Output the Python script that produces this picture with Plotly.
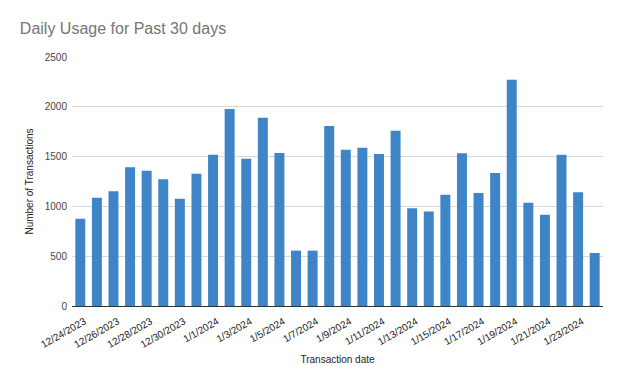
import plotly.graph_objects as go

dates = ["12/24/2023", "12/25/2023", "12/26/2023", "12/27/2023", "12/28/2023", "12/29/2023",
         "12/30/2023", "12/31/2023", "1/1/2024", "1/2/2024", "1/3/2024", "1/4/2024",
         "1/5/2024", "1/6/2024", "1/7/2024", "1/8/2024", "1/9/2024", "1/10/2024",
         "1/11/2024", "1/12/2024", "1/13/2024", "1/14/2024", "1/15/2024", "1/16/2024",
         "1/17/2024", "1/18/2024", "1/19/2024", "1/20/2024", "1/21/2024", "1/22/2024",
         "1/23/2024", "1/24/2024"]
transactions = [877, 1088, 1151, 1392, 1359, 1272, 1078, 1329, 1519, 1978, 1479, 1891,
                1536, 556, 556, 1807, 1570, 1590, 1526, 1760, 981, 950, 1118, 1533,
                1135, 1335, 2272, 1037, 917, 1519, 1141, 532]
tick_labels = dates[::2]
y_ticks = [0, 500, 1000, 1500, 2000, 2500]

font = "Liberation Sans, Arial, sans-serif"

fig = go.Figure(go.Bar(x=dates, y=transactions, marker=dict(color="#3d85c6", line=dict(width=0))))

fig.update_layout(
    width=623, height=385,
    margin=dict(l=64, r=28, t=49, b=87),
    paper_bgcolor="white", plot_bgcolor="white",
    bargap=0.4,
    showlegend=False,
    title=dict(text="Daily Usage for Past 30 days", x=0.019, xanchor="left", xref="container",
               y=0.948, yanchor="middle", yref="container",
               font=dict(family=font, size=16, color="#757575")),
    font=dict(family=font, size=10, color="#444444"),
)
fig.update_xaxes(
    type="category", automargin=False,
    tickmode="array", tickvals=tick_labels, ticktext=tick_labels,
    tickangle=-30, tickfont=dict(size=10, color="#222222"),
    showgrid=False, showline=True, linecolor="#333333", linewidth=1,
    ticks="", ticklabelstandoff=5, ticklabelshift=4,
    title=dict(text="Transaction date", font=dict(size=10, color="#222222"), standoff=6),
)
fig.update_yaxes(
    range=[0, 2500], tickvals=y_ticks, tickfont=dict(size=10, color="#444444"),
    automargin=False,
    showgrid=True, gridcolor="#d9d9d9", gridwidth=1, zeroline=False,
    ticks="", ticklabelstandoff=4,
    title=dict(text="Number of Transactions", font=dict(size=10, color="#222222"), standoff=9),
)

fig.write_html("out.html")
